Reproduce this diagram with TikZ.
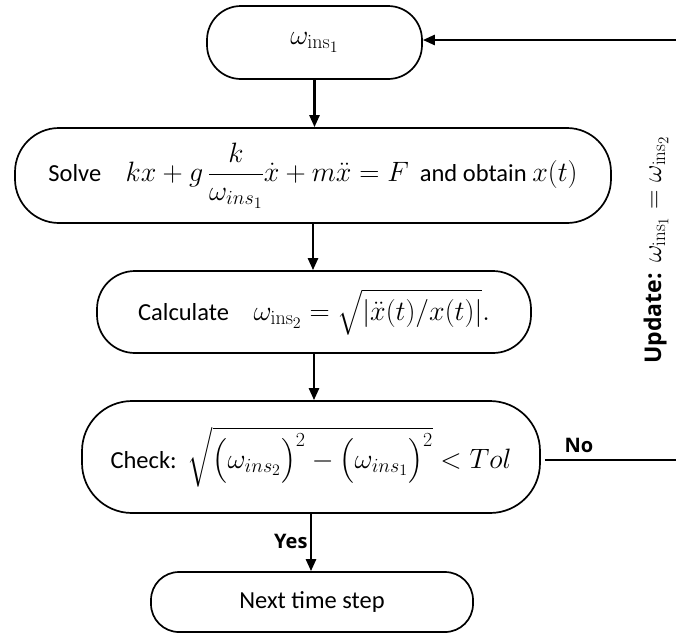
\RequirePackage{fix-cm}
\documentclass[tikz,border=0pt]{standalone}
\usepackage{amsmath}
\usepackage[no-math]{fontspec}
\setmainfont{Carlito}
\newfontfamily\lblfont{Open Sans}
\DeclareMathSizes{24.5}{28}{20}{16}
\DeclareMathSizes{23}{27}{19}{15}
\usetikzlibrary{arrows.meta}
\begin{document}
\begin{tikzpicture}[x=1pt,y=-1pt,
  box/.style={draw, line width=1.7pt, rounded corners=#1, inner sep=0pt, align=center,
              font=\fontsize{24.5}{28}\selectfont},
  conn/.style={line width=2.5pt, -{Triangle[width=10pt,length=12pt]}},
  plain/.style={line width=2.5pt},
  lbl/.style={font=\fontsize{20}{24}\selectfont\lblfont\bfseries}]
\useasboundingbox (0,0) rectangle (676,635);
\node[box=34pt, minimum width=215pt, minimum height=73pt] (n1) at (314.5,42.5)
  {$\omega_{\mathrm{ins}_1}$};
\node[box=44pt, minimum width=596pt, minimum height=95pt] (n2) at (313,175.5)
  {Solve\quad $kx + g\,\dfrac{k}{\omega_{ins_1}}\dot{x} + m\ddot{x} = F$\ \ and obtain $x(t)$};
\node[box=38pt, minimum width=434pt, minimum height=82pt] (n3) at (314,312)
  {Calculate\quad $\omega_{\mathrm{ins}_2} = \sqrt{|\ddot{x}(t)/x(t)|}.$};
\node[box=50pt, minimum width=458pt, minimum height=112pt] (n4) at (311,457)
  {Check:\ \ $\sqrt{\big(\omega_{ins_2}\big)^2 - \big(\omega_{ins_1}\big)^2} < Tol$};
\node[box=28pt, minimum width=322pt, minimum height=60pt] (n5) at (312,602)
  {Next time step};
\node[rotate=90, font=\fontsize{23}{27}\selectfont, inner sep=0pt] (upd) at (656,250)
  {{\lblfont\bfseries Update:}\ \ $\omega_{\mathrm{ins}_1} = \omega_{\mathrm{ins}_2}$};
\coordinate (rt) at (676,40);
\coordinate (rb) at (676,460);
\draw[conn] (rt) -- (n1.east |- rt);
\draw[conn] (n1.south) -- (n1.south |- n2.north);
\draw[conn] (n2.south) -- (n2.south |- n3.north);
\draw[conn] (n3.south) -- (n3.south |- n4.north);
\draw[conn] (n4.south) -- (n4.south |- n5.north);
\draw[plain, shorten <=4pt] (n4.east |- rb) -- (rb);
\node[lbl] (no) at (579,445) {No};
\node[lbl, anchor=east] (yes) at (311,541) {Yes};
\end{tikzpicture}
\end{document}
